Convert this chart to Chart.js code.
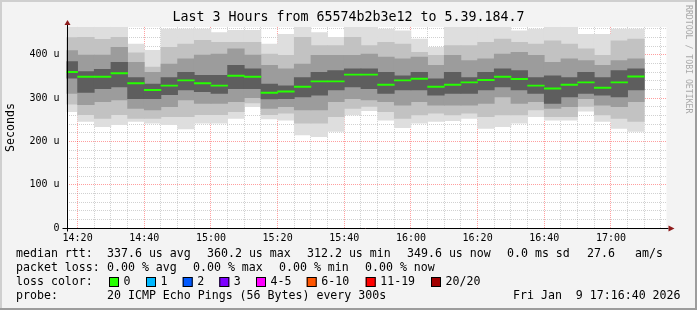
<!DOCTYPE html>
<html>
<head>
<meta charset="utf-8">
<script src="https://cdn.jsdelivr.net/npm/chart.js@4.4.1/dist/chart.umd.min.js"></script>
<style>
  html, body { margin: 0; padding: 0; background: #f3f3f3; }
  canvas { display: block; }
</style>
</head>
<body>
<canvas id="smoke" width="697" height="310"></canvas>
<script>
// time axis in minutes after 14:00, one entry per 5 minute step (centre of step)
const binCentres = [17.5, 22.5, 27.5, 32.5, 37.5, 42.5, 47.5, 52.5, 57.5, 62.5, 67.5, 72.5,
  77.5, 82.5, 87.5, 92.5, 97.5, 102.5, 107.5, 112.5, 117.5, 122.5, 127.5, 132.5,
  137.5, 142.5, 147.5, 152.5, 157.5, 162.5, 167.5, 172.5, 177.5, 182.5, 187.5];

// rtt in microseconds
const pingMax = [466, 466, 464, 466, 425, 411, 460, 460, 460, 452, 457, 457,
  425, 448, 464, 452, 441, 464, 464, 460, 456, 437, 418, 464,
  464, 464, 464, 456, 460, 464, 464, 448, 448, 460, 460];
const pingHi2 = [440, 441, 436, 441, 405, 372, 418, 425, 434, 429, 429, 429,
  402, 399, 441, 422, 422, 441, 422, 429, 425, 406, 399, 422,
  422, 429, 437, 429, 425, 433, 425, 414, 399, 433, 437];
const pingHi3 = [410, 400, 400, 418, 383, 360, 379, 391, 400, 402, 414, 400,
  376, 368, 379, 399, 399, 399, 402, 395, 391, 395, 376, 399,
  387, 391, 402, 406, 399, 383, 391, 387, 376, 387, 391];
const pingHi4 = [385, 362, 367, 383, 348, 333, 348, 360, 353, 353, 376, 368,
  333, 329, 348, 360, 364, 368, 368, 360, 352, 360, 345, 360,
  348, 360, 368, 364, 348, 352, 348, 360, 348, 364, 368];
const median = [360.2, 349, 349, 357, 334, 318.5, 328.5, 340.7, 334, 328.5, 351.5, 349,
  312.2, 315, 326, 338.5, 338.5, 354, 354, 330.7, 340.7, 344.6, 326, 330.7,
  336, 341.5, 349, 344, 328.5, 322, 330.7, 336, 323.8, 336, 349.6];
const pingLo4 = [345, 312, 321, 325, 298, 298, 307, 318, 314, 310, 321, 321,
  297, 298, 302, 306, 318, 325, 321, 310, 318, 318, 306, 310,
  310, 318, 325, 318, 310, 287, 302, 310, 306, 302, 318];
const pingLo3 = [310, 284, 291, 295, 275, 272, 279, 295, 287, 287, 291, 300,
  275, 279, 272, 272, 291, 298, 295, 291, 283, 291, 283, 283,
  283, 287, 302, 287, 291, 275, 279, 298, 283, 279, 291];
const pingLo2 = [285, 261, 252, 261, 252, 252, 256, 256, 261, 261, 268, 288,
  261, 264, 241, 241, 256, 275, 280, 268, 252, 260, 264, 260,
  264, 256, 260, 260, 272, 256, 256, 280, 260, 252, 245];
const pingMin = [268, 245, 233, 238, 245, 241, 238, 228, 241, 241, 252, 279,
  251, 248, 214, 210, 222, 260, 270, 248, 231, 241, 245, 247,
  252, 229, 233, 241, 256, 248, 248, 269, 245, 229, 222];

const xTickLabels = ['14:20', '14:40', '15:00', '15:20', '15:40', '16:00', '16:20', '16:40', '17:00'];
const yTickLabels = ['0', '100 u', '200 u', '300 u', '400 u'];

const MONO = "'DejaVu Sans Mono', monospace";

const layers = [
  { lo: pingMin, hi: pingMax, color: '#dedede', order: 5 },
  { lo: pingLo2, hi: pingHi2, color: '#c2c2c2', order: 4 },
  { lo: pingLo3, hi: pingHi3, color: '#9c9c9c', order: 3 },
  { lo: pingLo4, hi: pingHi4, color: '#5e5e5e', order: 2 },
];

const datasets = layers.map(l => ({
  data: binCentres.map((t, i) => ({ x: t, y: [l.lo[i], l.hi[i]] })),
  backgroundColor: l.color,
  order: l.order,
}));
datasets.push({
  data: binCentres.map((t, i) => ({ x: t, y: [median[i] - 2.2, median[i] + 2.2] })),
  backgroundColor: '#26ff00',
  order: 1,
});

const legendRows = [
  { y: 254, items: [[16, 'median rtt:'], [107, '337.6 us avg'], [207, '360.2 us max'], [307, '312.2 us min'],
    [407, '349.6 us now'], [507, '0.0 ms sd'], [587, '27.6'], [635, 'am/s']] },
  { y: 268, items: [[16, 'packet loss:'], [107, '0.00 % avg'], [193, '0.00 % max'], [279, '0.00 % min'], [365, '0.00 % now']] },
  { y: 282, items: [[16, 'loss color:']] },
  { y: 296, items: [[16, 'probe:'], [107, '20 ICMP Echo Pings (56 Bytes) every 300s'], [513, 'Fri Jan  9 17:16:40 2026']] },
];
const lossBoxes = [
  [109, '#26ff00', '0'], [146, '#00b8ff', '1'], [182.7, '#0059ff', '2'], [219.3, '#7e00ff', '3'],
  [256, '#ff00ff', '4-5'], [306.7, '#ff5500', '6-10'], [365.7, '#ff0000', '11-19'], [431, '#a10000', '20/20'],
];

const frame = {
  id: 'frame',
  beforeDraw(chart) {
    const { ctx, chartArea: a } = chart;
    ctx.save();
    ctx.fillStyle = '#f3f3f3';
    ctx.fillRect(0, 0, chart.width, chart.height);
    ctx.fillStyle = '#ffffff';
    ctx.fillRect(a.left, a.top, a.right - a.left, a.bottom - a.top);
    ctx.restore();
  },
  afterDraw(chart) {
    const { ctx, chartArea: a } = chart;
    ctx.save();
    // outer border
    ctx.fillStyle = '#cfcfcf';
    ctx.fillRect(0, 0, chart.width, 2);
    ctx.fillRect(0, 0, 2, chart.height);
    ctx.fillStyle = '#9c9c9c';
    ctx.fillRect(0, chart.height - 2, chart.width, 2);
    ctx.fillRect(chart.width - 2, 0, 2, chart.height);
    // axes with arrows
    const x0 = Math.round(a.left) + 0.5, y0 = Math.round(a.bottom) + 0.5;
    ctx.strokeStyle = '#000';
    ctx.lineWidth = 1;
    ctx.beginPath();
    ctx.moveTo(x0 - 5, y0); ctx.lineTo(a.right + 2, y0);
    ctx.moveTo(x0, y0 + 3); ctx.lineTo(x0, a.top - 3);
    ctx.stroke();
    ctx.fillStyle = '#8e1b1b';
    ctx.beginPath();
    ctx.moveTo(a.right + 2, y0 - 3); ctx.lineTo(a.right + 8, y0); ctx.lineTo(a.right + 2, y0 + 3);
    ctx.fill();
    ctx.beginPath();
    ctx.moveTo(x0 - 3, a.top - 2); ctx.lineTo(x0, a.top - 7); ctx.lineTo(x0 + 3, a.top - 2);
    ctx.fill();
    // legend
    ctx.fillStyle = '#000';
    ctx.font = '11.6px ' + MONO;
    ctx.textBaseline = 'middle';
    ctx.textAlign = 'left';
    legendRows.forEach(r => r.items.forEach(([x, t]) => ctx.fillText(t, x, r.y)));
    lossBoxes.forEach(([x, c, t]) => {
      ctx.fillStyle = c;
      ctx.fillRect(x, 277, 10, 10);
      ctx.strokeStyle = '#000';
      ctx.strokeRect(x + 0.5, 277.5, 9, 9);
      ctx.fillStyle = '#000';
      ctx.fillText(t, x + 14.5, 282);
    });
    // watermark
    ctx.translate(688, 5);
    ctx.rotate(Math.PI / 2);
    ctx.font = '8.2px ' + MONO;
    ctx.fillStyle = '#a8a8a8';
    ctx.textBaseline = 'middle';
    ctx.fillText('RRDTOOL / TOBI OETIKER', 0, 0);
    ctx.restore();
  }
};

new Chart(document.getElementById('smoke'), {
  type: 'bar',
  data: { datasets },
  options: {
    responsive: false,
    animation: false,
    devicePixelRatio: 1,
    datasets: {
      bar: { grouped: false, barPercentage: 1.04, categoryPercentage: 1, borderWidth: 0, clip: 0 }
    },
    layout: { padding: { left: 0, right: 0, top: 0, bottom: 62 } },
    plugins: {
      legend: { display: false },
      tooltip: { enabled: false },
      title: {
        display: true,
        text: 'Last 3 Hours from 65574b2b3e12 to 5.39.184.7',
        color: '#000',
        font: { family: MONO, size: 13.3, weight: 'normal' },
        padding: { top: 10, bottom: 1 }
      }
    },
    scales: {
      x: {
        type: 'linear',
        min: 16 + 2 / 3,
        max: 196 + 2 / 3,
        offset: false,
        z: 1,
        afterFit: s => { s.height = 20; },
        afterBuildTicks: s => {
          const t = [];
          for (let v = 20; v <= 195; v += 5) t.push({ value: v });
          s.ticks = t;
        },
        grid: {
          offset: false,
          drawTicks: false,
          lineWidth: 1,
          color: c => (c.tick && c.tick.value % 20 === 0) ? 'rgba(255,0,0,0.38)' : 'rgba(140,140,140,0.4)'
        },
        border: { display: false, dash: [1, 1] },
        ticks: {
          autoSkip: false,
          maxRotation: 0,
          padding: 4,
          color: '#000',
          font: { family: MONO, size: 10 },
          callback: v => v % 20 === 0 ? xTickLabels[(v - 20) / 20] : ''
        }
      },
      y: {
        min: 0,
        max: 464,
        z: 1,
        afterFit: s => { s.width = 66.5; },
        afterBuildTicks: s => {
          const t = [];
          for (let v = 0; v <= 460; v += 20) t.push({ value: v });
          s.ticks = t;
        },
        grid: {
          drawTicks: false,
          lineWidth: 1,
          color: c => (c.tick && c.tick.value % 100 === 0) ? 'rgba(255,0,0,0.38)' : 'rgba(140,140,140,0.4)'
        },
        border: { display: false, dash: [1, 1] },
        ticks: {
          autoSkip: false,
          padding: 7,
          color: '#000',
          font: { family: MONO, size: 10 },
          callback: v => v % 100 === 0 ? yTickLabels[v / 100] : ''
        },
        title: {
          display: true,
          text: 'Seconds',
          color: '#000',
          font: { family: MONO, size: 11.6 },
          padding: { top: 4, bottom: 0 }
        }
      },
      y2: {
        position: 'right',
        display: true,
        afterFit: s => { s.width = 30.5; },
        grid: { display: false },
        border: { display: false },
        ticks: { display: false }
      }
    }
  },
  plugins: [frame]
});
</script>
</body>
</html>
